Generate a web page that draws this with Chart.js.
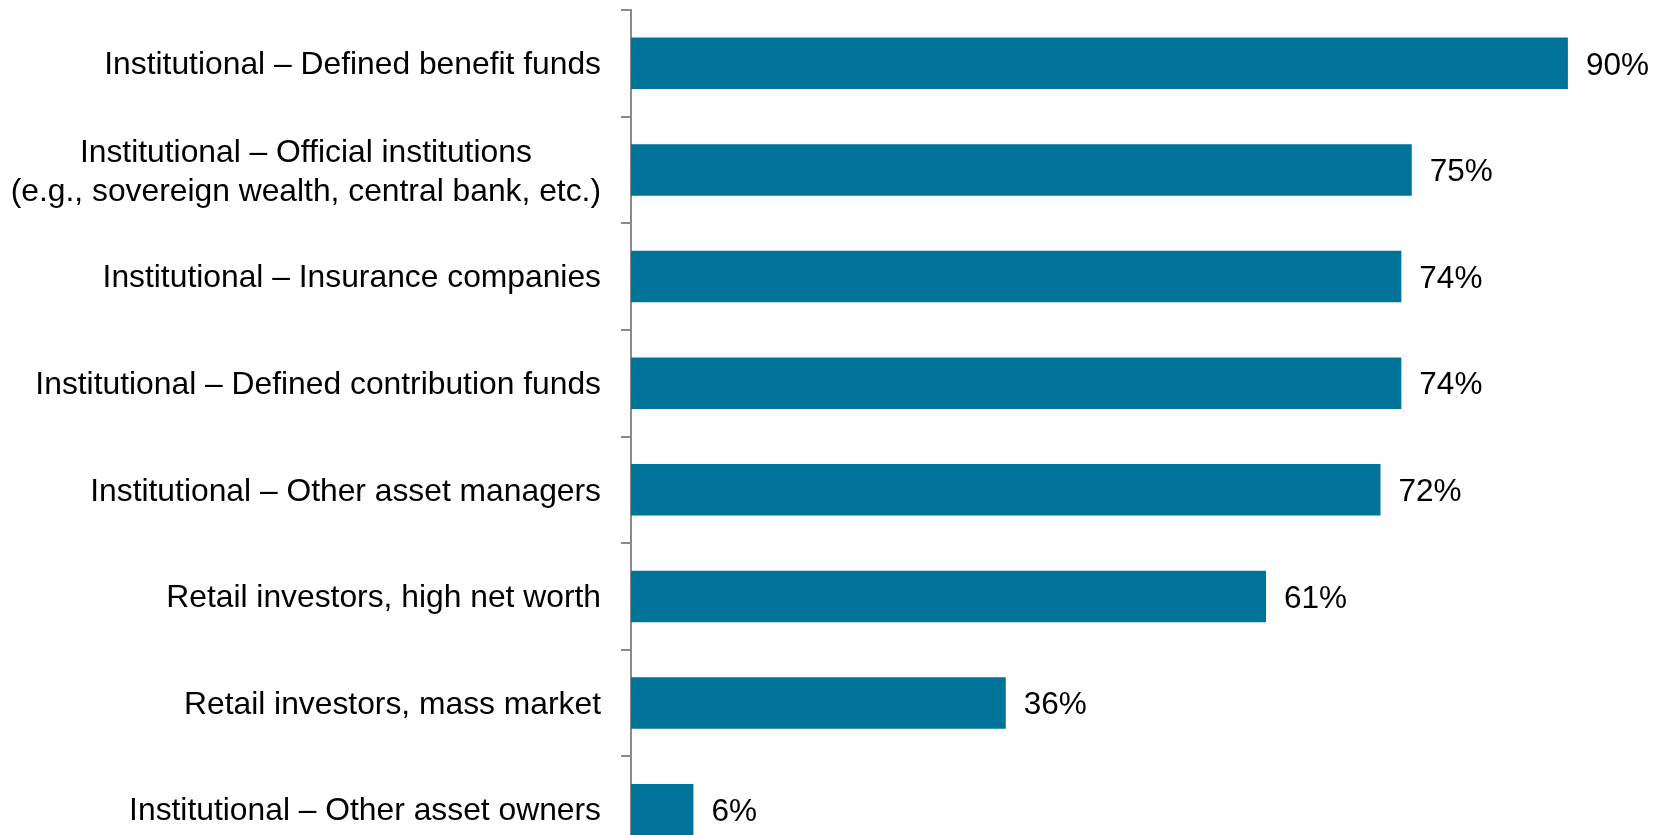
<!DOCTYPE html>
<html>
<head>
<meta charset="utf-8">
<script src="https://cdn.jsdelivr.net/npm/chart.js@4/dist/chart.umd.min.js"></script>
<style>
  html, body { margin: 0; padding: 0; background: #ffffff; overflow: hidden; }
  #wrap { width: 1680px; height: 873px; }
</style>
</head>
<body>
<div id="wrap"><canvas id="c" width="1680" height="873"></canvas></div>
<script>
// ---- data ----
const categories = [
  'Institutional – Defined benefit funds',
  ['Institutional – Official institutions', '(e.g., sovereign wealth, central bank, etc.)'],
  'Institutional – Insurance companies',
  'Institutional – Defined contribution funds',
  'Institutional – Other asset managers',
  'Retail investors, high net worth',
  'Retail investors, mass market',
  'Institutional – Other asset owners'
];
const shares = [90, 75, 74, 74, 72, 61, 36, 6];
const valueSuffix = '%';

// ---- styling ----
const FONT_FAMILY = '"Liberation Sans", Arial, Helvetica, sans-serif';
const VALUE_FONT_SIZE = 31.5;
const LABEL_FONT_SIZE = 31.8;
const BAR_COLOR = '#007398';
const AXIS_COLOR = '#8a8a8a';

const valueLabelPlugin = {
  id: 'valueLabels',
  afterDatasetsDraw(chart) {
    const ctx = chart.ctx;
    const meta = chart.getDatasetMeta(0);
    ctx.save();
    ctx.font = VALUE_FONT_SIZE + 'px ' + FONT_FAMILY;
    ctx.fillStyle = '#000000';
    ctx.textAlign = 'left';
    ctx.textBaseline = 'middle';
    meta.data.forEach((el, i) => {
      ctx.fillText(shares[i] + valueSuffix, el.x + 18, el.y + 2.5);
    });
    ctx.restore();
  }
};

const categoryLabelPlugin = {
  id: 'categoryLabels',
  afterDraw(chart) {
    const ctx = chart.ctx;
    const ys = chart.scales.y;
    const xRight = ys.right - 30;
    const lineH = 39;
    ctx.save();
    ctx.font = LABEL_FONT_SIZE + 'px ' + FONT_FAMILY;
    ctx.fillStyle = '#000000';
    ctx.textAlign = 'center';
    ctx.textBaseline = 'middle';
    categories.forEach((lab, i) => {
      const lines = Array.isArray(lab) ? lab : [lab];
      const w = Math.max(...lines.map(l => ctx.measureText(l).width));
      const cx = xRight - w / 2;
      const cy = ys.getPixelForValue(i) + (lines.length > 1 ? 3 : 2);
      lines.forEach((l, j) => {
        ctx.fillText(l, cx, cy + (j - (lines.length - 1) / 2) * lineH);
      });
    });
    ctx.restore();
  }
};

new Chart(document.getElementById('c'), {
  type: 'bar',
  data: {
    labels: categories,
    datasets: [{
      data: shares,
      backgroundColor: BAR_COLOR,
      borderWidth: 0,
      barPercentage: 0.484,
      categoryPercentage: 1.0
    }]
  },
  options: {
    indexAxis: 'y',
    responsive: false,
    animation: false,
    devicePixelRatio: 1,
    layout: { padding: { top: 10, bottom: 10, right: 8, left: 0 } },
    plugins: { legend: { display: false }, tooltip: { enabled: false } },
    scales: {
      x: {
        display: false,
        min: 0,
        max: 100
      },
      y: {
        type: 'category',
        position: 'left',
        offset: true,
        afterFit(s) { s.width = 631; },
        ticks: { display: false },
        grid: {
          display: true,
          offset: true,
          drawOnChartArea: false,
          drawTicks: true,
          tickLength: 10,
          color: AXIS_COLOR,
          lineWidth: 2
        },
        border: { display: true, color: AXIS_COLOR, width: 2 }
      }
    }
  },
  plugins: [valueLabelPlugin, categoryLabelPlugin]
});
</script>
</body>
</html>
